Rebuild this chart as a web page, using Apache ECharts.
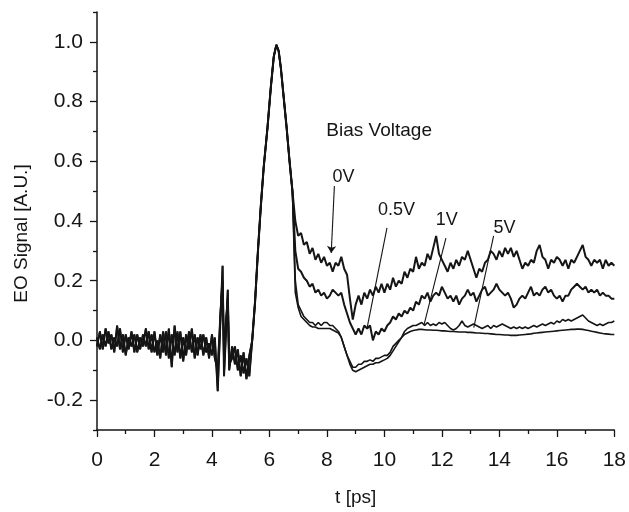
<!DOCTYPE html>
<html>
<head>
<meta charset="utf-8">
<script src="https://cdn.jsdelivr.net/npm/echarts@6/dist/echarts.min.js"></script>
<style>
html, body { margin: 0; padding: 0; background: #fff; }
#chart { width: 629px; height: 512px; }
</style>
</head>
<body>
<div id="chart"></div>
<script>
// pre-pulse baseline (two overlapping readings of the noisy band)
var tPre = [0,0.1,0.2,0.3,0.4,0.5,0.6,0.7,0.8,0.9,1.0,1.1,1.2,1.3,1.4,1.5,1.6,1.7,1.8,1.9,
	2.0,2.1,2.2,2.3,2.4,2.5,2.6,2.7,2.8,2.9,3.0,3.1,3.2,3.3,3.4,3.5,3.6,3.7,3.8,3.9,4.0,4.1,
	4.2,4.3,4.37,4.42,4.5,4.55,4.6,4.7,4.8,4.9,5.0,5.1,5.2,5.3];
var vPreA = [-0.02,0.03,-0.03,0.04,-0.01,0.02,-0.04,0.05,-0.03,0.02,-0.05,0.01,-0.02,0.02,-0.04,0.01,-0.02,0.04,-0.03,0.02,
	-0.04,0.00,-0.06,0.03,-0.05,0.04,-0.09,0.05,-0.04,0.03,-0.07,0.02,-0.03,0.04,-0.06,0.01,-0.03,0.02,-0.04,-0.01,-0.05,0.01,
	-0.17,0.08,0.25,-0.12,0.05,0.17,-0.10,-0.02,-0.08,-0.03,-0.12,-0.04,-0.13,-0.05];
var vPreB = [0.01,-0.03,0.02,-0.02,0.03,-0.03,0.01,-0.02,0.04,-0.04,0.02,-0.03,0.03,-0.04,0.02,-0.03,0.02,-0.02,0.03,-0.04,
	0.03,-0.05,0.02,-0.04,0.03,-0.06,0.02,-0.05,0.03,-0.06,0.01,-0.05,0.03,-0.04,0.02,-0.05,0.02,-0.05,0.01,-0.06,0.02,-0.06,
	-0.10,0.10,0.20,-0.05,0.08,0.14,-0.08,-0.06,-0.02,-0.10,-0.05,-0.11,-0.06,-0.12];

// main pulse
var tPulse = [5.4,5.5,5.6,5.7,5.8,5.93,6.05,6.15,6.24,6.32,6.4,6.5,6.6,6.7,6.8];
var vPulse = [0.00,0.13,0.30,0.45,0.58,0.71,0.85,0.95,0.99,0.97,0.91,0.81,0.71,0.60,0.50];

// tails after the pulse, sampled from 6.9 ps to 18 ps every 0.1 ps
var tTail = [];
for (var i = 0; i <= 111; i++) { tTail.push(+(6.9 + i * 0.1).toFixed(1)); }

var v0V = [0.40,0.35,0.36,0.32,0.33,0.29,0.31,0.27,0.29,0.26,0.28,0.25,0.26,0.23,0.26,0.25,0.28,0.24,0.22,0.14,
	0.07,0.12,0.15,0.12,0.16,0.14,0.17,0.15,0.18,0.16,0.19,0.16,0.19,0.17,0.21,0.18,0.20,0.19,0.23,0.21,
	0.24,0.23,0.28,0.24,0.26,0.25,0.29,0.27,0.31,0.35,0.29,0.27,0.25,0.23,0.26,0.24,0.27,0.25,0.28,0.27,
	0.30,0.27,0.24,0.21,0.24,0.23,0.26,0.27,0.30,0.29,0.27,0.30,0.28,0.31,0.29,0.31,0.28,0.30,0.27,0.24,
	0.26,0.25,0.27,0.26,0.30,0.32,0.28,0.27,0.24,0.27,0.26,0.28,0.27,0.25,0.27,0.24,0.27,0.26,0.28,0.30,
	0.32,0.28,0.27,0.25,0.27,0.26,0.27,0.24,0.27,0.25,0.26,0.25];
var v05V = [0.30,0.24,0.23,0.21,0.20,0.18,0.19,0.16,0.17,0.15,0.16,0.14,0.15,0.17,0.16,0.15,0.16,0.12,0.09,0.06,
	0.04,0.02,0.04,0.02,0.05,0.04,0.05,0.00,0.03,0.02,0.04,0.03,0.05,0.06,0.08,0.07,0.09,0.08,0.10,0.09,
	0.11,0.10,0.13,0.12,0.15,0.14,0.16,0.13,0.15,0.16,0.15,0.18,0.16,0.14,0.15,0.13,0.15,0.12,0.14,0.15,
	0.17,0.15,0.16,0.13,0.15,0.17,0.18,0.15,0.16,0.17,0.19,0.17,0.16,0.15,0.16,0.14,0.11,0.12,0.14,0.15,
	0.14,0.16,0.18,0.15,0.16,0.15,0.17,0.18,0.16,0.17,0.15,0.14,0.15,0.13,0.15,0.15,0.17,0.18,0.19,0.18,
	0.17,0.18,0.16,0.17,0.16,0.17,0.15,0.16,0.15,0.15,0.14,0.14];
var v1V = [0.20,0.12,0.10,0.08,0.07,0.06,0.06,0.05,0.06,0.05,0.06,0.06,0.05,0.05,0.04,0.03,0.01,-0.02,-0.05,-0.07,
	-0.09,-0.09,-0.08,-0.08,-0.07,-0.07,-0.065,-0.07,-0.06,-0.06,-0.055,-0.05,-0.05,-0.04,-0.02,-0.01,0.00,0.01,0.03,0.04,
	0.045,0.05,0.05,0.055,0.06,0.05,0.06,0.05,0.055,0.05,0.06,0.055,0.06,0.05,0.04,0.035,0.04,0.05,0.065,0.05,
	0.045,0.05,0.055,0.05,0.045,0.04,0.045,0.05,0.04,0.05,0.045,0.05,0.055,0.05,0.045,0.04,0.045,0.04,0.045,0.04,
	0.045,0.04,0.045,0.05,0.045,0.05,0.055,0.05,0.055,0.06,0.055,0.065,0.06,0.07,0.065,0.07,0.065,0.07,0.075,0.08,
	0.085,0.075,0.065,0.06,0.055,0.05,0.055,0.05,0.055,0.06,0.06,0.065];
var v5V = [0.16,0.11,0.08,0.07,0.06,0.05,0.045,0.045,0.04,0.04,0.04,0.04,0.04,0.035,0.03,0.025,0.01,-0.02,-0.05,-0.08,
	-0.10,-0.105,-0.10,-0.095,-0.09,-0.085,-0.08,-0.08,-0.075,-0.075,-0.07,-0.065,-0.06,-0.05,-0.035,-0.02,-0.005,0.01,0.02,0.025,
	0.03,0.033,0.035,0.037,0.037,0.036,0.035,0.035,0.034,0.034,0.033,0.032,0.032,0.031,0.03,0.03,0.029,0.028,0.028,0.028,
	0.027,0.027,0.026,0.025,0.025,0.024,0.023,0.023,0.022,0.021,0.02,0.02,0.019,0.018,0.018,0.017,0.017,0.017,0.018,0.019,
	0.02,0.021,0.022,0.024,0.025,0.026,0.027,0.028,0.029,0.03,0.031,0.032,0.033,0.034,0.035,0.036,0.037,0.037,0.038,0.038,
	0.037,0.035,0.033,0.031,0.029,0.027,0.025,0.023,0.022,0.021,0.02,0.02];

var traceNames = ['0V', '0.5V', '1V', '5V'];
var traceTails = [v0V, v05V, v1V, v5V];
var tracePre = [vPreA, vPreB, vPreA, vPreB];

var xMajor = [0,2,4,6,8,10,12,14,16,18];
var xMinor = [1,3,5,7,9,11,13,15,17];
var yMajor = [-0.2,0,0.2,0.4,0.6,0.8,1.0];
var yMinor = [-0.3,-0.1,0.1,0.3,0.5,0.7,0.9,1.1];

// leader lines [label end, curve end] and label positions, data coords
var leaderLines = [
	[[8.26,0.517],[8.15,0.293]],
	[[10.09,0.377],[9.40,0.043]],
	[[12.14,0.343],[11.38,0.053]],
	[[13.80,0.35],[13.11,0.043]]
];
var labelPos = [[8.19,0.547],[9.78,0.437],[11.79,0.403],[13.80,0.377]];
var titlePos = [7.98,0.703];

function buildTrace(pre, tail) {
	var d = [];
	for (var i = 0; i < tPre.length; i++) d.push([tPre[i], pre[i]]);
	for (var j = 0; j < tPulse.length; j++) d.push([tPulse[j], vPulse[j]]);
	for (var k = 0; k < tTail.length; k++) d.push([tTail[k], tail[k]]);
	return d;
}

var ink = '#151515';
var font = 'Liberation Sans, Arial, sans-serif';

var chart = echarts.init(document.getElementById('chart'));

var series = [];
for (var s = 0; s < traceNames.length; s++) {
	series.push({
		name: traceNames[s],
		type: 'line',
		data: buildTrace(tracePre[s], traceTails[s]),
		showSymbol: false,
		symbol: 'none',
		lineStyle: { color: ink, width: s < 2 ? 2 : 1.6 },
		markLine: {
			silent: true,
			symbol: ['none', s === 0 ? 'arrow' : 'none'],
			symbolSize: 7,
			label: { show: false },
			lineStyle: { color: ink, width: 1.1, type: 'solid' },
			data: [[{ coord: leaderLines[s][0] }, { coord: leaderLines[s][1] }]]
		}
	});
}

var option = {
	animation: false,
	backgroundColor: '#fff',
	grid: { left: 97, right: 13, top: 12, bottom: 80 },
	xAxis: [{
		type: 'value', min: 0, max: 18, interval: 1,
		name: 't [ps]', nameLocation: 'middle', nameGap: 58,
		nameTextStyle: { color: ink, fontSize: 19, fontFamily: font },
		axisLine: { onZero: false, lineStyle: { color: ink, width: 1.5 } },
		axisTick: { customValues: xMajor, length: 7, lineStyle: { color: ink, width: 1.3 } },
		axisLabel: { customValues: xMajor, color: ink, fontSize: 21, fontFamily: font, margin: 20 },
		splitLine: { show: false }
	}, {
		type: 'value', min: 0, max: 18, interval: 1, position: 'bottom',
		axisLine: { show: false, onZero: false },
		axisTick: { customValues: xMinor, length: 4, lineStyle: { color: ink, width: 1.3 } },
		axisLabel: { show: false },
		splitLine: { show: false }
	}],
	yAxis: [{
		type: 'value', min: -0.3, max: 1.1, interval: 0.1,
		name: 'EO Signal [A.U.]', nameLocation: 'middle', nameGap: 66,
		nameTextStyle: { color: ink, fontSize: 19, fontFamily: font, padding: [0, 25, 0, 0] },
		axisLine: { onZero: false, lineStyle: { color: ink, width: 1.5 } },
		axisTick: { customValues: yMajor, length: 7, lineStyle: { color: ink, width: 1.3 } },
		axisLabel: {
			customValues: yMajor, color: ink, fontSize: 21, fontFamily: font, margin: 14,
			formatter: function (v) { return v.toFixed(1); }
		},
		splitLine: { show: false }
	}, {
		type: 'value', min: -0.3, max: 1.1, interval: 0.1, position: 'left',
		axisLine: { show: false, onZero: false },
		axisTick: { customValues: yMinor, length: 4, lineStyle: { color: ink, width: 1.3 } },
		axisLabel: { show: false },
		splitLine: { show: false }
	}],
	series: series
};
chart.setOption(option);

// text annotations placed from data coords
var graphics = [];
var tp = chart.convertToPixel({ gridIndex: 0 }, titlePos);
graphics.push({
	type: 'text', x: tp[0], y: tp[1],
	style: { text: 'Bias Voltage', fill: ink, font: '19px ' + font, textAlign: 'left', textVerticalAlign: 'middle' }
});
for (var n = 0; n < traceNames.length; n++) {
	var p = chart.convertToPixel({ gridIndex: 0 }, labelPos[n]);
	graphics.push({
		type: 'text', x: p[0], y: p[1],
		style: { text: traceNames[n], fill: ink, font: '18px ' + font, textAlign: 'left', textVerticalAlign: 'middle' }
	});
}
chart.setOption({ graphic: graphics });
</script>
</body>
</html>
